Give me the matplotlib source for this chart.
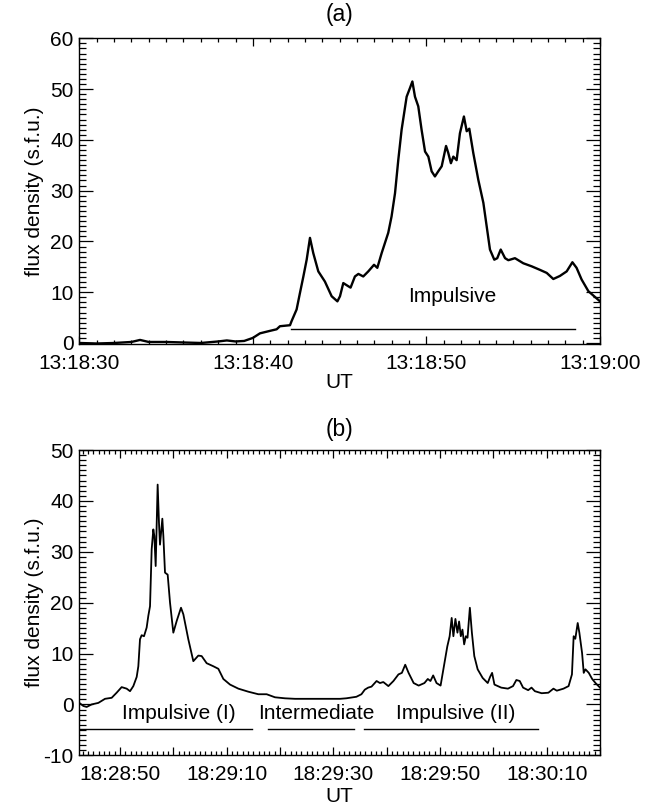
import matplotlib
matplotlib.use("Agg")
import matplotlib.pyplot as plt
from matplotlib.ticker import MultipleLocator, FixedLocator

plt.rcParams['font.family'] = ['Liberation Sans', 'DejaVu Sans']
plt.rcParams['axes.unicode_minus'] = False

# ---------------- Panel (a) data: seconds after 13:18:30, flux (s.f.u.)
t_a = [0.0, 1.0, 2.0, 3.0, 3.5, 4.0, 5.0, 6.0, 7.0, 8.0, 8.5, 9.0, 9.5, 10.0,
       10.41, 11.0, 11.37, 11.56, 12.14, 12.23, 12.52, 12.71, 12.91, 13.10, 13.29,
       13.48, 13.77, 14.15, 14.54, 14.87, 15.02, 15.21, 15.44, 15.63, 15.88, 16.08,
       16.36, 16.65, 16.98, 17.17, 17.42, 17.80, 17.99, 18.19, 18.38, 18.57, 18.86,
       19.05, 19.19, 19.34, 19.53, 19.72, 19.92, 20.11, 20.30, 20.49, 20.68, 20.88,
       21.13, 21.26, 21.41, 21.55, 21.74, 21.93, 22.16, 22.32, 22.47, 22.70, 22.99,
       23.28, 23.47, 23.66, 23.91, 24.08, 24.28, 24.53, 24.72, 25.10, 25.58, 26.06,
       26.54, 26.93, 27.31, 27.69, 28.08, 28.41, 28.65, 28.94, 29.33, 30.0]
f_a = [0.0, -0.1, 0.0, 0.2, 0.6, 0.2, 0.2, 0.1, 0.0, 0.3, 0.5, 0.3, 0.4, 1.0,
       1.9, 2.4, 2.7, 3.3, 3.5, 4.3, 6.6, 9.8, 13.1, 16.4, 20.7,
       17.7, 14.1, 12.1, 9.2, 8.2, 9.2, 11.8, 11.3, 10.9, 13.1, 13.6,
       13.1, 14.1, 15.4, 14.8, 17.7, 21.7, 24.9, 29.5, 36.1, 42.0, 48.5,
       50.2, 51.5, 48.5, 46.6, 42.0, 37.7, 36.7, 33.8, 32.8, 33.8, 34.8,
       38.8, 37.4, 35.4, 36.7, 36.0, 41.3, 44.6, 41.7, 42.2, 37.4, 32.1,
       27.6, 23.0, 18.4, 16.4, 16.7, 18.4, 16.7, 16.3, 16.7, 15.7, 15.1,
       14.4, 13.8, 12.6, 13.2, 14.1, 15.9, 14.8, 12.5, 10.2, 8.2]
seg_a = [(12.18, 28.56)]
seg_a_level = 2.8
lab_a = ["Impulsive"]
lab_a_pos = [(21.5, 9.2)]
ticks_a = [0, 10, 20, 30]
ticklabels_a = ["13:18:30", "13:18:40", "13:18:50", "13:19:00"]

# ---------------- Panel (b) data: seconds after 18:28:50, flux (s.f.u.)
t_b = [-7.63, -6.88, -6.25, -5.31, -4.06, -2.81, -1.56, -0.63, 0.31, 1.25, 1.88,
       2.50, 3.13, 3.44, 3.75, 4.06, 4.50, 5.00, 5.31, 5.63, 5.94, 6.25, 6.44,
       6.69, 6.88, 7.06, 7.31, 7.50, 7.69, 7.94, 8.13, 8.44, 8.94, 9.38, 10.0,
       10.63, 11.44, 11.88, 12.81, 13.75, 14.69, 15.31, 16.25, 17.50, 18.44,
       19.38, 20.63, 22.19, 24.06, 25.94, 27.50, 29.06, 30.94, 32.81, 34.69,
       36.56, 39.06, 41.25, 42.42, 44.32, 45.27, 45.90, 46.53, 47.16, 48.11,
       48.74, 49.37, 50.32, 51.27, 52.21, 52.85, 53.48, 54.11, 55.06, 56.00,
       57.08, 57.71, 58.21, 58.72, 59.35, 60.11, 60.74, 61.37, 61.81, 62.19,
       62.51, 62.89, 63.27, 63.58, 63.90, 64.21, 64.53, 64.85, 65.16, 65.60,
       65.98, 66.43, 67.06, 68.00, 68.95, 69.39, 69.77, 70.21, 71.48, 72.74,
       73.69, 74.32, 74.95, 75.58, 76.53, 77.16, 77.79, 79.06, 80.32, 81.27,
       81.90, 83.16, 84.11, 84.74, 85.06, 85.37, 85.82, 86.13, 86.64, 86.95,
       87.27, 87.90, 88.53, 89.16, 90.0]
f_b = [0.3, -0.3, -0.5, 0.0, 0.3, 1.1, 1.3, 2.3, 3.4, 3.1, 2.6,
       3.6, 5.4, 7.5, 12.8, 13.6, 13.4, 15.1, 17.4, 19.3, 30.5, 34.4, 33.1,
       27.2, 35.7, 43.2, 35.7, 31.4, 33.7, 36.5, 33.1, 25.9, 25.5, 20.0, 14.1,
       16.4, 19.0, 17.7, 12.8, 8.5, 9.6, 9.5, 8.1, 7.5, 7.0,
       5.0, 3.9, 3.1, 2.5, 2.0, 2.0, 1.4, 1.2, 1.1, 1.1,
       1.1, 1.1, 1.1, 1.2, 1.5, 2.0, 2.9, 3.3, 3.5, 4.6,
       4.2, 4.4, 3.6, 4.6, 5.9, 6.2, 7.8, 6.2, 4.2, 3.7,
       4.2, 5.0, 4.6, 5.7, 4.2, 3.7, 7.5, 11.4, 13.4, 17.0,
       13.4, 16.8, 14.1, 16.3, 13.4, 14.7, 11.8, 13.4, 13.1, 19.0,
       14.1, 9.5, 6.9, 5.2, 4.2, 5.4, 6.2, 3.9, 3.3, 3.1,
       3.6, 4.8, 4.6, 3.3, 2.8, 3.3, 2.6, 2.2, 2.3, 3.1,
       2.7, 3.1, 3.6, 5.9, 13.4, 12.9, 16.0, 14.1, 10.1, 6.2,
       6.9, 6.2, 5.0, 4.2, 3.3]
seg_b = [(-7.63, 24.69), (27.69, 43.81), (45.71, 78.3)]
seg_b_level = -4.9
lab_b = ["Impulsive (I)", "Intermediate", "Impulsive (II)"]
lab_b_pos = [(10.94, -1.7), (36.9, -1.7), (62.97, -1.7)]
ticks_b = [0, 20, 40, 60, 80]
ticklabels_b = ["18:28:50", "18:29:10", "18:29:30", "18:29:50", "18:30:10"]

FS = 15

fig = plt.figure(figsize=(6.64, 8.07), dpi=100)
W, H = 664, 807

def make_axes(l, t, r, b):
    return fig.add_axes([l / W, 1 - b / H, (r - l) / W, (b - t) / H])

def ftext(x, y, s, size=FS, **kw):
    fig.text(x / W, 1 - y / H, s, ha='center', va='center', fontsize=size, **kw)

def style(ax):
    for s in ax.spines.values():
        s.set_linewidth(1.0)
    ax.tick_params(which='both', direction='in', top=True, right=True,
                   labelsize=FS, width=0.9, colors='black')
    ax.tick_params(axis='y', which='major', length=10, pad=4)
    ax.tick_params(axis='y', which='minor', length=5)
    ax.tick_params(axis='x', which='major', length=6, pad=7)
    ax.tick_params(axis='x', which='minor', length=3)

# Panel (a)
ax1 = make_axes(79.3, 38.3, 600, 344)
ax1.plot(t_a, f_a, color='black', lw=1.7)
ax1.set_xlim(0, 30)
ax1.set_ylim(-0.2, 60)
ax1.xaxis.set_major_locator(FixedLocator(ticks_a))
ax1.set_xticklabels(ticklabels_a)
ax1.xaxis.set_minor_locator(MultipleLocator(1))
ax1.yaxis.set_major_locator(MultipleLocator(10))
ax1.yaxis.set_minor_locator(MultipleLocator(1))
for (x0, x1) in seg_a:
    ax1.plot([x0, x1], [seg_a_level, seg_a_level], color='black', lw=1.0)
for txt, (x, y) in zip(lab_a, lab_a_pos):
    ax1.text(x, y, txt, ha='center', va='center', fontsize=FS)
style(ax1)
ftext(339.7, 15, "(a)", size=16.5)
ftext(339.7, 383, "UT")
ftext(35, 191, "flux density (s.f.u.)", rotation=90)

# Panel (b)
ax2 = make_axes(79.3, 450, 600, 755.3)
ax2.plot(t_b, f_b, color='black', lw=1.3)
ax2.set_xlim(-7.63, 90)
ax2.set_ylim(-10, 50)
ax2.xaxis.set_major_locator(MultipleLocator(10))
ax2.xaxis.set_minor_locator(MultipleLocator(1))
lab_map = dict(zip(ticks_b, ticklabels_b))
ax2.xaxis.set_major_formatter(plt.FuncFormatter(
    lambda v, p: lab_map.get(int(round(v)), "")))
ax2.yaxis.set_major_locator(MultipleLocator(10))
ax2.yaxis.set_minor_locator(MultipleLocator(1))
for (x0, x1) in seg_b:
    ax2.plot([x0, x1], [seg_b_level, seg_b_level], color='black', lw=1.0)
for txt, (x, y) in zip(lab_b, lab_b_pos):
    ax2.text(x, y, txt, ha='center', va='center', fontsize=FS)
style(ax2)
ftext(339.7, 429, "(b)", size=16.5)
ftext(339.7, 797, "UT")
ftext(35, 602.7, "flux density (s.f.u.)", rotation=90)

fig.savefig("out.png", dpi=100)
